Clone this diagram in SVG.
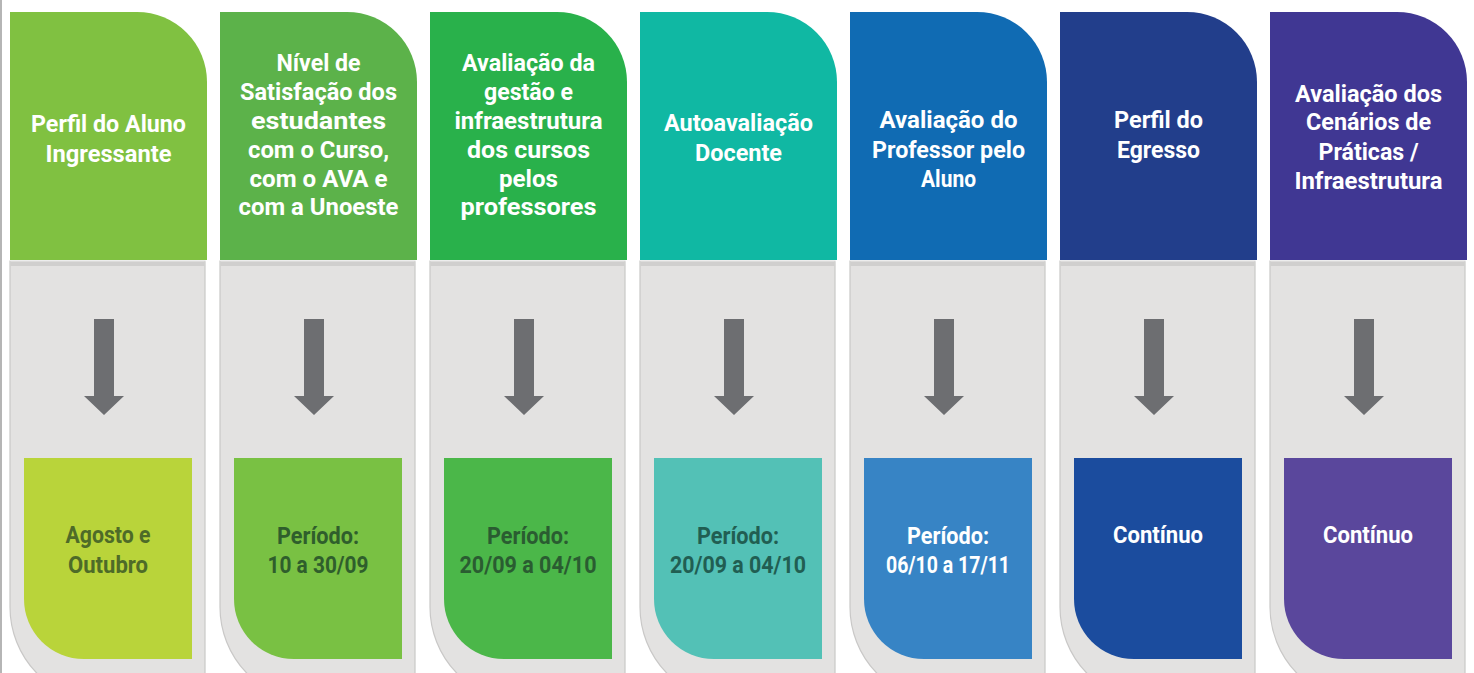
<svg xmlns="http://www.w3.org/2000/svg" width="1474" height="673" viewBox="0 0 1474 673">
  <defs>
    <style>
      .panel { fill: #e3e2e1; stroke: #c9c8c7; stroke-width: 1.2; }
      .band { fill: #d0cfce; }
      .sep { fill: #ffffff; opacity: 0.35; }
      .arrow { fill: #6d6e71; }
      .ht { font-family: Roboto, "Liberation Sans", sans-serif; font-weight: 700; font-size: 24px; fill: #ffffff; text-anchor: middle; }
      .bt { font-family: Roboto, "Liberation Sans", sans-serif; font-weight: 700; font-size: 24px; text-anchor: middle; }
    </style>
    <path id="panelShape" d="M0,249 H195 V690 H95 A95,95 0 0 1 0,595 Z"/>
    <path id="headShape" d="M0,0 H127 A70,70 0 0 1 197,70 V248 H0 Z"/>
    <path id="boxShape" d="M14,446 H182 V647 H74 A60,60 0 0 1 14,587 Z"/>
  </defs>

  <rect x="0" y="0" width="1474" height="673" fill="#ffffff"/>
  <rect x="0" y="0" width="2" height="673" fill="#b5b5b5"/>

  <!-- Column 1 -->
  <g id="col1" transform="translate(10,12)">
    <use href="#panelShape" class="panel"/>
    <rect class="band" x="0.6" y="250" width="194" height="4"/>
    <use href="#headShape" fill="#80c141"/>
    <rect class="sep" x="0" y="248" width="197" height="1.5"/>
    <use href="#boxShape" fill="#b9d43a"/>
    <text class="ht" x="98.5" y="120" textLength="155" lengthAdjust="spacingAndGlyphs">Perfil do Aluno</text>
    <text class="ht" x="98.5" y="150" textLength="126" lengthAdjust="spacingAndGlyphs">Ingressante</text>
    <text class="bt" fill="#4e6b28" x="98" y="531" textLength="85" lengthAdjust="spacingAndGlyphs">Agosto e</text>
    <text class="bt" fill="#4e6b28" x="98" y="561" textLength="80" lengthAdjust="spacingAndGlyphs">Outubro</text>
  </g>

  <!-- Column 2 -->
  <g id="col2" transform="translate(220,12)">
    <use href="#panelShape" class="panel"/>
    <rect class="band" x="0.6" y="250" width="194" height="4"/>
    <use href="#headShape" fill="#5cb24a"/>
    <rect class="sep" x="0" y="248" width="197" height="1.5"/>
    <use href="#boxShape" fill="#79c143"/>
    <text class="ht" x="98.5" y="59" textLength="84" lengthAdjust="spacingAndGlyphs">Nível de</text>
    <text class="ht" x="98.5" y="88" textLength="157" lengthAdjust="spacingAndGlyphs">Satisfação dos</text>
    <text class="ht" x="98.5" y="117" textLength="135" lengthAdjust="spacingAndGlyphs">estudantes</text>
    <text class="ht" x="98.5" y="146" textLength="141" lengthAdjust="spacingAndGlyphs">com o Curso,</text>
    <text class="ht" x="98.5" y="175" textLength="138" lengthAdjust="spacingAndGlyphs">com o AVA e</text>
    <text class="ht" x="98.5" y="203" textLength="160" lengthAdjust="spacingAndGlyphs">com a Unoeste</text>
    <text class="bt" fill="#2f5e2c" x="98" y="532" textLength="82" lengthAdjust="spacingAndGlyphs">Período:</text>
    <text class="bt" fill="#2f5e2c" x="98" y="561" textLength="101" lengthAdjust="spacingAndGlyphs">10 a 30/09</text>
  </g>

  <!-- Column 3 -->
  <g id="col3" transform="translate(430,12)">
    <use href="#panelShape" class="panel"/>
    <rect class="band" x="0.6" y="250" width="194" height="4"/>
    <use href="#headShape" fill="#29b14b"/>
    <rect class="sep" x="0" y="248" width="197" height="1.5"/>
    <use href="#boxShape" fill="#4bb749"/>
    <text class="ht" x="98.5" y="59" textLength="133" lengthAdjust="spacingAndGlyphs">Avaliação da</text>
    <text class="ht" x="98.5" y="88" textLength="89" lengthAdjust="spacingAndGlyphs">gestão e</text>
    <text class="ht" x="98.5" y="117" textLength="148" lengthAdjust="spacingAndGlyphs">infraestrutura</text>
    <text class="ht" x="98.5" y="146" textLength="123" lengthAdjust="spacingAndGlyphs">dos cursos</text>
    <text class="ht" x="98.5" y="175" textLength="59" lengthAdjust="spacingAndGlyphs">pelos</text>
    <text class="ht" x="98.5" y="203" textLength="136" lengthAdjust="spacingAndGlyphs">professores</text>
    <text class="bt" fill="#2a5c31" x="98" y="532" textLength="82" lengthAdjust="spacingAndGlyphs">Período:</text>
    <text class="bt" fill="#2a5c31" x="98" y="561" textLength="137" lengthAdjust="spacingAndGlyphs">20/09 a 04/10</text>
  </g>

  <!-- Column 4 -->
  <g id="col4" transform="translate(640,12)">
    <use href="#panelShape" class="panel"/>
    <rect class="band" x="0.6" y="250" width="194" height="4"/>
    <use href="#headShape" fill="#10b8a3"/>
    <rect class="sep" x="0" y="248" width="197" height="1.5"/>
    <use href="#boxShape" fill="#53c1b6"/>
    <text class="ht" x="98.5" y="119" textLength="149" lengthAdjust="spacingAndGlyphs">Autoavaliação</text>
    <text class="ht" x="98.5" y="149" textLength="87" lengthAdjust="spacingAndGlyphs">Docente</text>
    <text class="bt" fill="#215e52" x="98" y="532" textLength="82" lengthAdjust="spacingAndGlyphs">Período:</text>
    <text class="bt" fill="#215e52" x="98" y="561" textLength="136" lengthAdjust="spacingAndGlyphs">20/09 a 04/10</text>
  </g>

  <!-- Column 5 -->
  <g id="col5" transform="translate(850,12)">
    <use href="#panelShape" class="panel"/>
    <rect class="band" x="0.6" y="250" width="194" height="4"/>
    <use href="#headShape" fill="#106bb3"/>
    <rect class="sep" x="0" y="248" width="197" height="1.5"/>
    <use href="#boxShape" fill="#3784c5"/>
    <text class="ht" x="98.5" y="116" textLength="138" lengthAdjust="spacingAndGlyphs">Avaliação do</text>
    <text class="ht" x="98.5" y="145.5" textLength="153" lengthAdjust="spacingAndGlyphs">Professor pelo</text>
    <text class="ht" x="98.5" y="175" textLength="55" lengthAdjust="spacingAndGlyphs">Aluno</text>
    <text class="bt" fill="#ffffff" x="98" y="532" textLength="82" lengthAdjust="spacingAndGlyphs">Período:</text>
    <text class="bt" fill="#ffffff" x="98" y="561" textLength="124" lengthAdjust="spacingAndGlyphs">06/10 a 17/11</text>
  </g>

  <!-- Column 6 -->
  <g id="col6" transform="translate(1060,12)">
    <use href="#panelShape" class="panel"/>
    <rect class="band" x="0.6" y="250" width="194" height="4"/>
    <use href="#headShape" fill="#223e8b"/>
    <rect class="sep" x="0" y="248" width="197" height="1.5"/>
    <use href="#boxShape" fill="#1b4c9e"/>
    <text class="ht" x="98.5" y="116" textLength="89" lengthAdjust="spacingAndGlyphs">Perfil do</text>
    <text class="ht" x="98.5" y="146" textLength="83" lengthAdjust="spacingAndGlyphs">Egresso</text>
    <text class="bt" fill="#ffffff" x="98" y="531" textLength="90" lengthAdjust="spacingAndGlyphs">Contínuo</text>
  </g>

  <!-- Column 7 -->
  <g id="col7" transform="translate(1270,12)">
    <use href="#panelShape" class="panel"/>
    <rect class="band" x="0.6" y="250" width="194" height="4"/>
    <use href="#headShape" fill="#403793"/>
    <rect class="sep" x="0" y="248" width="197" height="1.5"/>
    <use href="#boxShape" fill="#5a479c"/>
    <text class="ht" x="98.5" y="89.5" textLength="147" lengthAdjust="spacingAndGlyphs">Avaliação dos</text>
    <text class="ht" x="98.5" y="118" textLength="125" lengthAdjust="spacingAndGlyphs">Cenários de</text>
    <text class="ht" x="98.5" y="148" textLength="100" lengthAdjust="spacingAndGlyphs">Práticas /</text>
    <text class="ht" x="98.5" y="177" textLength="148" lengthAdjust="spacingAndGlyphs">Infraestrutura</text>
    <text class="bt" fill="#ffffff" x="98" y="531" textLength="90" lengthAdjust="spacingAndGlyphs">Contínuo</text>
  </g>

  <!-- Connectors -->
  <g id="connectors" class="arrow">
    <path d="M94,319 H114 V396 H124 L104,415 L84,396 H94 Z"/>
    <path d="M304,319 H324 V396 H334 L314,415 L294,396 H304 Z"/>
    <path d="M514,319 H534 V396 H544 L524,415 L504,396 H514 Z"/>
    <path d="M724,319 H744 V396 H754 L734,415 L714,396 H724 Z"/>
    <path d="M934,319 H954 V396 H964 L944,415 L924,396 H934 Z"/>
    <path d="M1144,319 H1164 V396 H1174 L1154,415 L1134,396 H1144 Z"/>
    <path d="M1354,319 H1374 V396 H1384 L1364,415 L1344,396 H1354 Z"/>
  </g>
</svg>
